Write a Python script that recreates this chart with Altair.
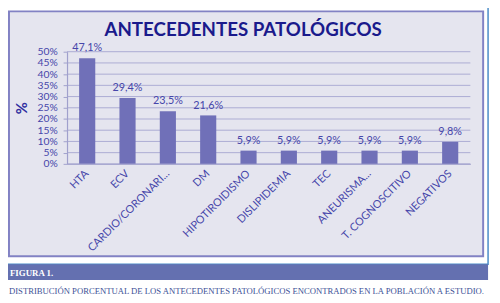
import altair as alt
import pandas as pd

categories = ["HTA", "ECV", "CARDIO/CORONARI...", "DM", "HIPOTIROIDISMO",
              "DISLIPIDEMIA", "TEC", "ANEURISMA...", "T. COGNOSCITIVO", "NEGATIVOS"]
values = [47.1, 29.4, 23.5, 21.6, 5.9, 5.9, 5.9, 5.9, 5.9, 9.8]
grid_values = [0, 5, 10, 15, 20, 25, 30, 35, 40, 45, 50]

title_text = "ANTECEDENTES PATOLÓGICOS"
y_title = "%"
fig_label = "FIGURA 1."
caption = "DISTRIBUCIÓN PORCENTUAL DE LOS ANTECEDENTES PATOLÓGICOS ENCONTRADOS EN LA POBLACIÓN A ESTUDIO."

df = pd.DataFrame({
    "cat": categories,
    "val": values,
    "lab": [f"{v:.1f}%".replace(".", ",") for v in values],
})
grid_df = pd.DataFrame({"g": grid_values})
one = pd.DataFrame({"k": [0]})

W, H = 410, 114
LAB = "#4646AA"
AX = "#A0A0CC"
yscale = alt.Scale(domain=[0, 50], nice=False)
xscale = alt.Scale(paddingInner=0.6, paddingOuter=0.3)
yaxis = alt.Axis(values=grid_values, tickCount=11, labelExpr="datum.value + '%'",
                 labelFont="Lato", labelFontSize=10.5, labelColor=LAB,
                 labelOverlap=False, labelFlush=False, labelBound=False,
                 grid=False, tickSize=4, tickColor=AX,
                 domainColor=AX, domainWidth=1.2, labelPadding=6, zindex=1, title=None)

bg = alt.Chart(one).mark_rect(fill="#E5E5EF", stroke="#8282C4", strokeWidth=2).encode(
    x=alt.value(-59), x2=alt.value(423), y=alt.value(-41), y2=alt.value(208))
frame = alt.Chart(one).mark_rect(fill=None, stroke="#4A8CC8", strokeWidth=1.5).encode(
    x=alt.value(-75), x2=alt.value(428), y=alt.value(-60), y2=alt.value(216))
figbar = alt.Chart(one).mark_rect(fill="#6470B0").encode(
    x=alt.value(-60), x2=alt.value(428), y=alt.value(216), y2=alt.value(232))

grid = alt.Chart(grid_df).mark_rule(color="#ABABD3", strokeWidth=1).encode(
    y=alt.Y("g:Q", scale=yscale, axis=yaxis, title=None),
    x=alt.value(0), x2=alt.value(W))

bars = alt.Chart(df).mark_bar(color="#7070B8").encode(
    x=alt.X("cat:N", sort=None, scale=xscale, title=None,
            axis=alt.Axis(labelAngle=-45, labelAlign="right", labelBaseline="middle",
                          labelFont="Lato", labelFontSize=11, labelColor=LAB,
                          labelOverlap=False, ticks=False, domainColor=AX, labelPadding=8,
                          zindex=1)),
    y=alt.Y("val:Q", scale=yscale, title=None),
)
labels = alt.Chart(df).mark_text(font="Lato", fontSize=11, color=LAB,
                                 baseline="alphabetic", dy=-7).encode(
    x=alt.X("cat:N", sort=None, scale=xscale),
    y=alt.Y("val:Q", scale=yscale),
    text="lab:N")

title = alt.Chart(one).mark_text(font="Lato", fontWeight="bold", fontSize=19,
                                 color="#1A1A8C", align="center", baseline="alphabetic").encode(
    x=alt.value(179), y=alt.value(-15.5), text=alt.value(title_text))
ytitle = alt.Chart(one).mark_text(font="Lato", fontWeight="bold", fontSize=15,
                                  color="#3030A0", align="center", baseline="middle",
                                  angle=270).encode(
    x=alt.value(-45.5), y=alt.value(57.5), text=alt.value(y_title))
figtext = alt.Chart(one).mark_text(font="Liberation Serif", fontWeight="bold", fontSize=9,
                                   color="white", align="left", baseline="middle").encode(
    x=alt.value(-58), y=alt.value(224.5), text=alt.value(fig_label))
captext = alt.Chart(one).mark_text(font="Liberation Serif", fontSize=8.8,
                                   color="#3C5096", align="left", baseline="middle").encode(
    x=alt.value(-59), y=alt.value(243), text=alt.value(caption))

chart = alt.layer(bg, frame, figbar, grid, bars, labels, title, ytitle, figtext, captext).properties(
    width=W, height=H,
    autosize=alt.AutoSizeParams(type="none"),
    padding={"left": 60, "top": 42, "right": 22, "bottom": 139},
    background="white",
).configure_view(stroke=None)

chart.save("out.html", embed_options={"renderer": "svg", "actions": False})
